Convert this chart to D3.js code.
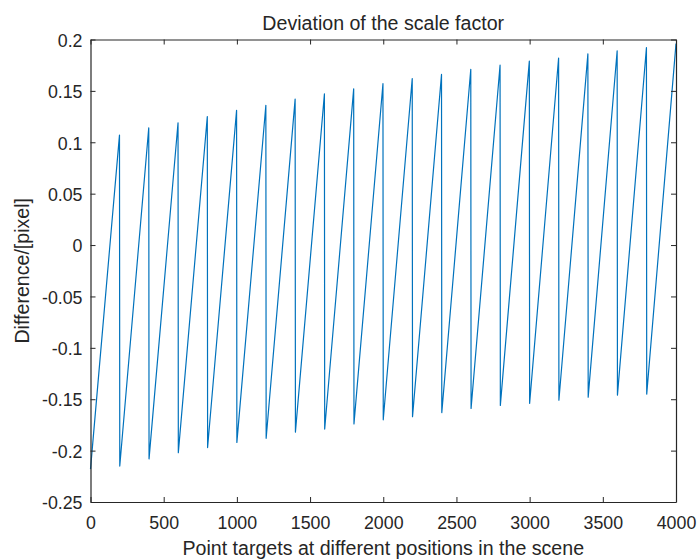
<!DOCTYPE html>
<html>
<head>
<meta charset="utf-8">
<script src="https://cdn.jsdelivr.net/npm/d3@7"></script>
<style>
  html, body { margin: 0; padding: 0; background: #ffffff; }
  svg { display: block; }
  text { font-family: "Liberation Sans", Arial, Helvetica, sans-serif; fill: #262626; }
</style>
</head>
<body>
<svg id="chart" width="697" height="560"></svg>
<script>
// ---- data ----
const titleText = "Deviation of the scale factor";
const xLabelText = "Point targets at different positions in the scene";
const yLabelText = "Difference/[pixel]";

// sawtooth: troughs at the start of each segment, peaks just before the drop
const troughX = [0, 200, 400, 600, 800, 1000, 1200, 1400, 1600, 1800, 2000, 2200, 2400, 2600, 2800, 3000, 3200, 3400, 3600, 3800];
const troughY = [-0.218, -0.215, -0.208, -0.202, -0.197, -0.192, -0.188, -0.182, -0.179, -0.174, -0.170, -0.167, -0.163, -0.159, -0.156, -0.154, -0.151, -0.148, -0.146, -0.145];
const peakX = [198, 398, 598, 798, 998, 1198, 1398, 1598, 1798, 1998, 2198, 2398, 2598, 2798, 2998, 3198, 3398, 3598, 3798, 4000];
const peakY = [0.107, 0.114, 0.119, 0.125, 0.131, 0.136, 0.142, 0.147, 0.152, 0.157, 0.162, 0.166, 0.171, 0.175, 0.179, 0.182, 0.186, 0.189, 0.192, 0.196];

const xTicks = [0, 500, 1000, 1500, 2000, 2500, 3000, 3500, 4000];
const yTicks = [-0.25, -0.2, -0.15, -0.1, -0.05, 0, 0.05, 0.1, 0.15, 0.2];
const yTickLabels = ["-0.25", "-0.2", "-0.15", "-0.1", "-0.05", "0", "0.05", "0.1", "0.15", "0.2"];

// ---- build line points ----
const points = [];
for (let i = 0; i < troughX.length; i++) {
  points.push([troughX[i], troughY[i]]);
  points.push([peakX[i], peakY[i]]);
}

// ---- layout ----
const W = 697, H = 560;
const m = { left: 90.5, right: 21, top: 39.5, bottom: 58 };
const svg = d3.select("#chart");
const x = d3.scaleLinear().domain([0, 4000]).range([m.left, W - m.right]);
const y = d3.scaleLinear().domain([-0.25, 0.2]).range([H - m.bottom, m.top]);

const axisColor = "#262626";
const tickFont = "17.8px";

// line
svg.append("path")
  .datum(points)
  .attr("fill", "none")
  .attr("stroke", "#0072BD")
  .attr("stroke-width", 1.2)
  .attr("stroke-linejoin", "round")
  .attr("d", d3.line().x(d => x(d[0])).y(d => y(d[1])));

function styleAxis(g) {
  g.selectAll("path").attr("stroke", axisColor).attr("stroke-width", 1.2);
  g.selectAll("line").attr("stroke", axisColor).attr("stroke-width", 1);
  g.selectAll("text").attr("fill", axisColor).style("font-size", tickFont)
    .style("font-family", '"Liberation Sans", Arial, sans-serif');
}

// bottom axis
svg.append("g")
  .attr("transform", `translate(0,${y(-0.25)})`)
  .call(d3.axisBottom(x).tickValues(xTicks).tickSizeInner(-5).tickSizeOuter(0).tickPadding(14).tickFormat(d3.format("d")))
  .call(styleAxis);

// top axis (no labels)
svg.append("g")
  .attr("transform", `translate(0,${y(0.2)})`)
  .call(d3.axisTop(x).tickValues(xTicks).tickSizeInner(-5).tickSizeOuter(0).tickFormat(""))
  .call(styleAxis);

// left axis
svg.append("g")
  .attr("transform", `translate(${x(0)},0)`)
  .call(d3.axisLeft(y).tickValues(yTicks).tickSizeInner(-5).tickSizeOuter(0).tickPadding(8)
    .tickFormat((d, i) => yTickLabels[i]))
  .call(styleAxis)
  .call(g => g.selectAll("text").attr("dy", "0.38em"));

// right axis
svg.append("g")
  .attr("transform", `translate(${x(4000)},0)`)
  .call(d3.axisRight(y).tickValues(yTicks).tickSizeInner(-5).tickSizeOuter(0).tickFormat(""))
  .call(styleAxis);

// title
svg.append("text")
  .attr("x", (x(0) + x(4000)) / 2)
  .attr("y", 30)
  .attr("text-anchor", "middle")
  .style("font-size", "19.6px")
  .text(titleText);

// x label
svg.append("text")
  .attr("x", (x(0) + x(4000)) / 2)
  .attr("y", 554.5)
  .attr("text-anchor", "middle")
  .style("font-size", "19.6px")
  .text(xLabelText);

// y label
svg.append("text")
  .attr("transform", `translate(29,${(y(0.2) + y(-0.25)) / 2}) rotate(-90)`)
  .attr("text-anchor", "middle")
  .style("font-size", "19.6px")
  .text(yLabelText);
</script>
</body>
</html>
